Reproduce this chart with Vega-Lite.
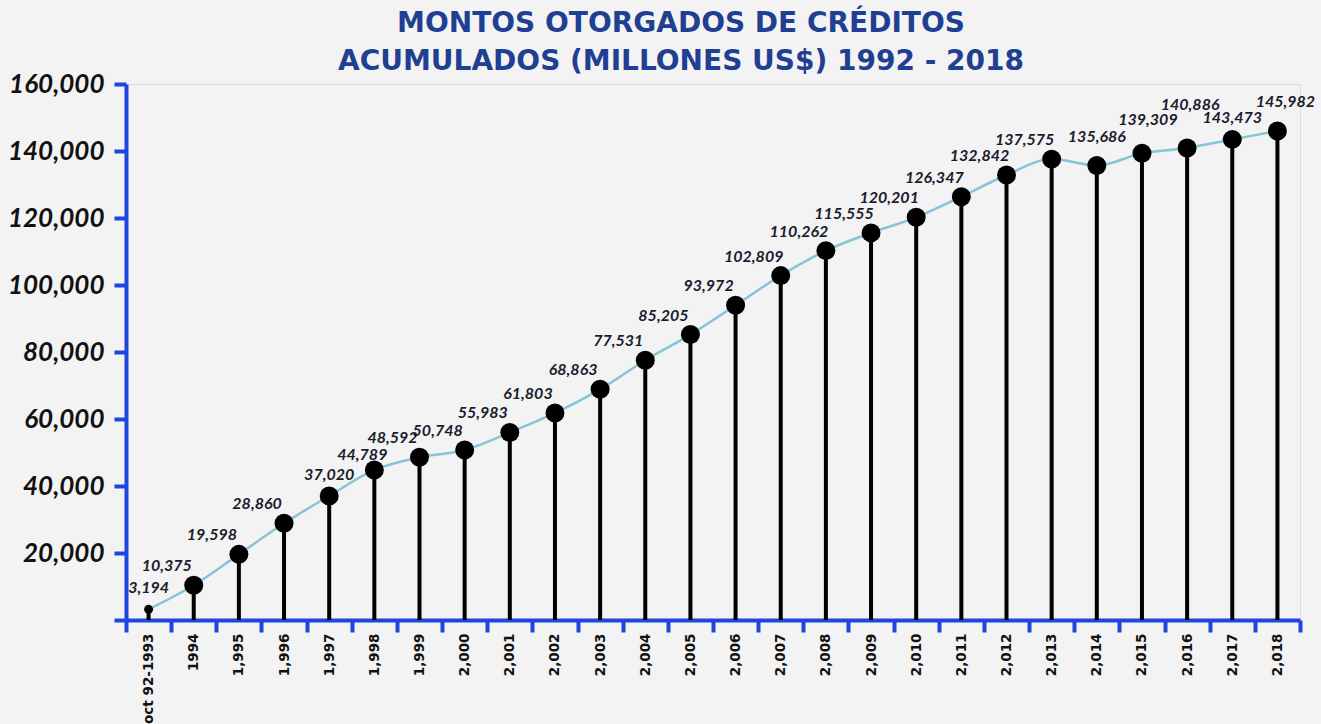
{
  "$schema": "https://vega.github.io/schema/vega-lite/v6.json",
  "autosize": {"type": "none"},
  "width": 1174,
  "height": 536,
  "padding": {"left": 126, "top": 84, "right": 21, "bottom": 104},
  "background": "#f3f3f3",
  "title": {
    "text": ["MONTOS OTORGADOS DE CRÉDITOS", "ACUMULADOS (MILLONES US$) 1992 - 2018"],
    "font": "DejaVu Sans",
    "fontSize": 28,
    "fontWeight": "bold",
    "color": "#213f92",
    "lineHeight": 38,
    "anchor": "middle",
    "dx": -32,
    "offset": -5
  },
  "data": {
    "values": [
      {"periodo": "oct 92-1993", "monto": 3194},
      {"periodo": "1994", "monto": 10375},
      {"periodo": "1,995", "monto": 19598},
      {"periodo": "1,996", "monto": 28860},
      {"periodo": "1,997", "monto": 37020},
      {"periodo": "1,998", "monto": 44789},
      {"periodo": "1,999", "monto": 48592},
      {"periodo": "2,000", "monto": 50748},
      {"periodo": "2,001", "monto": 55983},
      {"periodo": "2,002", "monto": 61803},
      {"periodo": "2,003", "monto": 68863},
      {"periodo": "2,004", "monto": 77531},
      {"periodo": "2,005", "monto": 85205},
      {"periodo": "2,006", "monto": 93972},
      {"periodo": "2,007", "monto": 102809},
      {"periodo": "2,008", "monto": 110262},
      {"periodo": "2,009", "monto": 115555},
      {"periodo": "2,010", "monto": 120201},
      {"periodo": "2,011", "monto": 126347},
      {"periodo": "2,012", "monto": 132842},
      {"periodo": "2,013", "monto": 137575},
      {"periodo": "2,014", "monto": 135686},
      {"periodo": "2,015", "monto": 139309},
      {"periodo": "2,016", "monto": 140886},
      {"periodo": "2,017", "monto": 143473},
      {"periodo": "2,018", "monto": 145982}
    ]
  },
  "encoding": {
    "x": {
      "field": "periodo",
      "type": "nominal",
      "sort": null,
      "scale": {"paddingInner": 0, "paddingOuter": 0},
      "axis": {
        "title": null,
        "labelAngle": -90,
        "labelFont": "DejaVu Sans",
        "labelFontWeight": "bold",
        "labelFontSize": 13.5,
        "labelColor": "#111111",
        "labelPadding": 1,
        "tickBand": "extent",
        "tickColor": "#1f45e0",
        "tickWidth": 4,
        "tickSize": 12,
        "domainColor": "#1f45e0",
        "domainWidth": 4,
        "grid": false
      }
    },
    "y": {
      "field": "monto",
      "type": "quantitative",
      "scale": {"domain": [0, 160000], "nice": false},
      "axis": {
        "title": null,
        "values": [0, 20000, 40000, 60000, 80000, 100000, 120000, 140000, 160000],
        "labelExpr": "datum.value == 0 ? '' : format(datum.value, ',')",
        "labelFont": "Lato",
        "labelFontWeight": "bold",
        "labelFontStyle": "italic",
        "labelFontSize": 26,
        "labelColor": "#111111",
        "labelPadding": 10,
        "tickColor": "#1f45e0",
        "tickWidth": 4,
        "tickSize": 12,
        "domainColor": "#1f45e0",
        "domainWidth": 4,
        "grid": false
      }
    }
  },
  "layer": [
    {
      "mark": {"type": "rule", "color": "#000000", "strokeWidth": 4},
      "encoding": {"y2": {"datum": 0}}
    },
    {
      "mark": {"type": "line", "color": "#86c4d8", "strokeWidth": 2.5, "interpolate": "monotone"}
    },
    {
      "mark": {"type": "point", "filled": true, "color": "#000000", "opacity": 1},
      "encoding": {
        "size": {"condition": {"test": "datum.periodo == 'oct 92-1993'", "value": 80}, "value": 360}
      }
    },
    {
      "transform": [{"filter": {"not": {"field": "periodo", "oneOf": ["oct 92-1993", "1,997", "1,998", "2,014", "2,015", "2,016", "2,017", "2,018"]}}}],
      "mark": {"type": "text", "font": "Lato", "fontWeight": "bold", "fontStyle": "italic", "fontSize": 16, "color": "#1b1b2e", "baseline": "middle", "dx": -27, "dy": -19},
      "encoding": {"text": {"field": "monto", "type": "quantitative", "format": ","}}
    },
    {
      "transform": [{"filter": {"field": "periodo", "oneOf": ["oct 92-1993", "1,997", "2,017"]}}],
      "mark": {"type": "text", "font": "Lato", "fontWeight": "bold", "fontStyle": "italic", "fontSize": 16, "color": "#1b1b2e", "baseline": "middle", "dx": 0, "dy": -21},
      "encoding": {"text": {"field": "monto", "type": "quantitative", "format": ","}}
    },
    {
      "transform": [{"filter": {"field": "periodo", "equal": "1,998"}}],
      "mark": {"type": "text", "font": "Lato", "fontWeight": "bold", "fontStyle": "italic", "fontSize": 16, "color": "#1b1b2e", "baseline": "middle", "dx": -12, "dy": -15},
      "encoding": {"text": {"field": "monto", "type": "quantitative", "format": ","}}
    },
    {
      "transform": [{"filter": {"field": "periodo", "equal": "2,014"}}],
      "mark": {"type": "text", "font": "Lato", "fontWeight": "bold", "fontStyle": "italic", "fontSize": 16, "color": "#1b1b2e", "baseline": "middle", "dx": 0, "dy": -28},
      "encoding": {"text": {"field": "monto", "type": "quantitative", "format": ","}}
    },
    {
      "transform": [{"filter": {"field": "periodo", "equal": "2,015"}}],
      "mark": {"type": "text", "font": "Lato", "fontWeight": "bold", "fontStyle": "italic", "fontSize": 16, "color": "#1b1b2e", "baseline": "middle", "dx": 6, "dy": -33},
      "encoding": {"text": {"field": "monto", "type": "quantitative", "format": ","}}
    },
    {
      "transform": [{"filter": {"field": "periodo", "equal": "2,016"}}],
      "mark": {"type": "text", "font": "Lato", "fontWeight": "bold", "fontStyle": "italic", "fontSize": 16, "color": "#1b1b2e", "baseline": "middle", "dx": 3, "dy": -43},
      "encoding": {"text": {"field": "monto", "type": "quantitative", "format": ","}}
    },
    {
      "transform": [{"filter": {"field": "periodo", "equal": "2,018"}}],
      "mark": {"type": "text", "font": "Lato", "fontWeight": "bold", "fontStyle": "italic", "fontSize": 16, "color": "#1b1b2e", "baseline": "middle", "dx": 8, "dy": -29},
      "encoding": {"text": {"field": "monto", "type": "quantitative", "format": ","}}
    }
  ]
}
